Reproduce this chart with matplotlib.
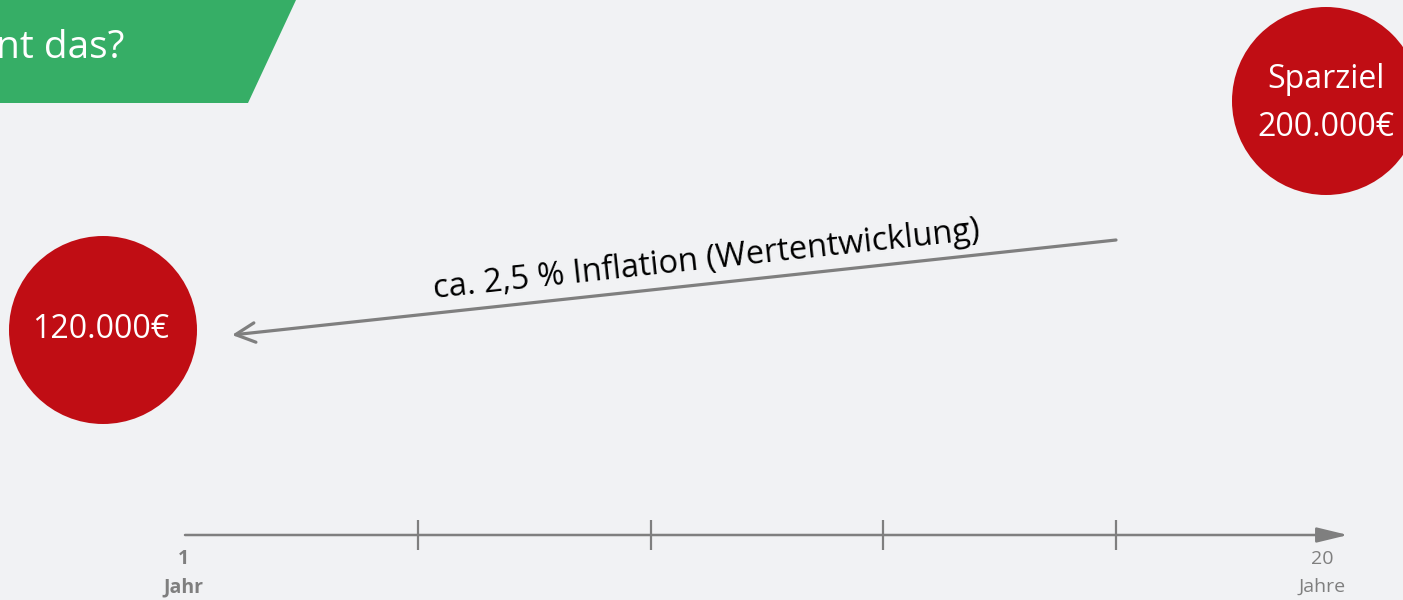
"""
Inflation slide: Sparziel 200.000 EUR in 20 Jahren entspricht heute ca. 120.000 EUR.
"""
import matplotlib.pyplot as plt
from matplotlib.patches import Circle, Polygon, FancyArrowPatch
import numpy as np

# data
title_text = "nt das?"
years = [1, 20]
year_units = ["Jahr", "Jahre"]
amounts = [120000, 200000]
amount_titles = ["", "Sparziel"]
inflation_rate = 2.5
arrow_label = "ca. {} % Inflation (Wertentwicklung)".format(str(inflation_rate).replace(".", ","))

# colours
bg_color = "#F1F2F4"
green = "#36AE66"
red = "#C00D14"
gray = "#7F7F7F"

plt.rcParams["font.family"] = ["Open Sans", "DejaVu Sans"]


def fmt_eur(v):
    return f"{v:,}".replace(",", ".") + "€"


fig = plt.figure(figsize=(14.03, 6.0), dpi=100)
fig.patch.set_facecolor(bg_color)
ax = fig.add_axes([0, 0, 1, 1])
ax.set_xlim(0, 1403)
ax.set_ylim(600, 0)
ax.axis("off")

# title banner (cut off on the left, like the slide)
ax.add_patch(Polygon([[-5, 0], [296, 0], [248, 103], [-5, 103]], closed=True,
                     facecolor=green, edgecolor="none"))
ax.text(-4, 58, title_text, color="white", fontsize=28, ha="left", va="baseline")

# circles: today's value (left) and savings goal (right)
centers = [(103, 330), (1326, 101)]
radius = 94
for (cx, cy), amt, ttl in zip(centers, amounts, amount_titles):
    ax.add_patch(Circle((cx, cy), radius, facecolor=red, edgecolor="none"))
    if ttl:
        ax.text(cx, cy - 22, ttl, color="white", fontsize=23, ha="center", va="center")
        ax.text(cx, cy + 26, fmt_eur(amt), color="white", fontsize=23, ha="center", va="center")
    else:
        ax.text(cx - 2, cy, fmt_eur(amt), color="white", fontsize=23, ha="center", va="center")

# inflation arrow (back from goal to today)
p_from, p_to = (1116, 240), (232, 335)
ax.add_patch(FancyArrowPatch(p_from, p_to, arrowstyle="->,head_length=14,head_width=7",
                             mutation_scale=1, color=gray, lw=2.3, shrinkA=0, shrinkB=0))
angle = np.degrees(np.arctan2(p_to[1] - p_from[1], p_from[0] - p_to[0]))
ax.text(707, 269, arrow_label, fontsize=23.5, color="black", ha="center", va="baseline",
        rotation=angle, rotation_mode="anchor")

# timeline
x0, x_last_tick, x_end, y_axis = 185, 1116, 1348, 535
ax.add_patch(FancyArrowPatch((x0, y_axis), (x_end, y_axis),
                             arrowstyle="-|>,head_length=19,head_width=4.6",
                             mutation_scale=1, color=gray, lw=1.8, shrinkA=0, shrinkB=0))
for tx in np.linspace(x0, x_last_tick, 5)[1:]:
    ax.plot([tx, tx], [520, 550], color=gray, lw=1.6, solid_capstyle="butt")

label_x = [183, 1322]
weights = ["bold", "normal"]
for lx, yr, unit, w in zip(label_x, years, year_units, weights):
    ax.text(lx, 559, str(yr), color=gray, fontsize=14, ha="center", va="center", fontweight=w)
    ax.text(lx, 587, unit, color=gray, fontsize=14, ha="center", va="center", fontweight=w)

fig.savefig("out.png", dpi=100, facecolor=bg_color)
